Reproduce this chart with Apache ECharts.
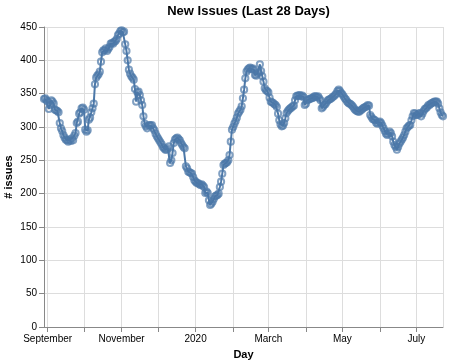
<!DOCTYPE html>
<html>
<head>
<meta charset="utf-8">
<script src="https://cdn.jsdelivr.net/npm/echarts@6/dist/echarts.min.js"></script>
<style>
html,body{margin:0;padding:0;background:#fff;}
#chart{width:449px;height:364px;}
</style>
</head>
<body>
<div id="chart"></div>
<script>
// ---- data ----
const startDate = [2019, 7, 29]; // 29 Aug 2019 (year, monthIndex, day)
const issues = [
342,343,340,338,327,333,340,338,335,326,
325,324,322,306,298,294,288,284,281,280,
278,281,279,283,280,287,291,306,308,320,
322,328,329,326,296,293,295,311,314,322,
328,335,364,374,377,379,383,398,412,415,
415,418,414,417,420,425,426,425,428,429,
432,438,440,444,445,442,443,424,414,400,
386,380,376,374,371,357,338,352,353,348,
340,333,316,305,301,298,302,303,302,303,
298,295,290,286,283,280,277,274,270,268,
266,266,268,271,246,250,261,276,281,283,
284,282,280,276,273,270,268,241,238,233,
232,231,230,225,220,218,216,216,214,213,
214,212,210,201,203,201,190,183,185,188,
192,196,197,198,200,210,218,230,243,245,
246,247,250,258,278,296,300,305,309,314,
320,323,326,331,343,356,373,383,386,388,
389,387,388,386,378,377,380,382,394,384,
376,368,358,355,354,352,344,338,337,336,
334,333,330,320,310,304,301,302,306,313,
321,324,326,328,329,331,332,340,346,347,
347,348,346,347,345,333,335,340,341,342,
343,343,344,346,346,345,346,343,340,328,
330,333,334,337,340,341,342,343,345,346,
348,350,354,356,354,351,349,346,343,341,
338,336,335,334,332,330,327,325,324,323,
323,325,326,328,329,330,331,333,332,318,
315,312,311,310,306,305,307,308,306,302,
298,294,290,288,290,293,291,286,278,273,
270,266,270,275,278,281,284,288,293,298,
300,302,303,310,316,321,320,318,318,320,
321,316,320,324,327,328,330,333,333,335,
336,337,338,338,338,335,328,322,318,316
];
const days = issues.map((_, i) => new Date(startDate[0], startDate[1], startDate[2] + i).getTime());
const monthNames = ['January','February','March','April','May','June','July','August','September','October','November','December'];
const yTicks = { min: 0, max: 450, step: 50 };
const titleText = 'New Issues (Last 28 Days)';
const xTitle = 'Day';
const yTitle = '# issues';

const FONT = '"Liberation Sans", Arial, Helvetica, sans-serif';
const chart = echarts.init(document.getElementById('chart'), null, { renderer: 'canvas' });
chart.setOption({
  animation: false,
  backgroundColor: '#fff',
  title: {
    text: titleText,
    left: 243.5,
    textAlign: 'center',
    top: 0,
    textStyle: { fontFamily: FONT, fontSize: 13, fontWeight: 'bold', color: '#000' }
  },
  grid: { left: 44, right: 6, top: 27, bottom: 37, containLabel: false, outerBoundsMode: 'none' },
  xAxis: {
    type: 'time',
    min: days[0],
    max: days[days.length - 1],
    splitNumber: 11,
    minInterval: 28 * 86400000,
    maxInterval: 31 * 86400000,
    name: xTitle,
    nameLocation: 'middle',
    nameGap: 22,
    nameMoveOverlap: false,
    nameTextStyle: { fontFamily: FONT, fontSize: 11, fontWeight: 'bold', color: '#000' },
    axisLine: { show: true, lineStyle: { color: '#888', width: 1 } },
    axisTick: { show: true, length: 5, interval: 0, lineStyle: { color: '#888' } },
    splitLine: { show: true, interval: 0, lineStyle: { color: '#ddd', width: 1 } },
    axisLabel: {
      interval: 0,
      margin: 7,
      fontFamily: FONT, fontSize: 10, color: '#000',
      hideOverlap: false,
      formatter: function (value) {
        const d = new Date(value);
        const m = d.getMonth();
        if (d.getDate() !== 1 || m % 2 !== 0) return '';
        return m === 0 ? String(d.getFullYear()) : monthNames[m];
      }
    }
  },
  yAxis: {
    type: 'value',
    min: yTicks.min,
    max: yTicks.max,
    interval: yTicks.step,
    name: yTitle,
    nameLocation: 'middle',
    nameGap: 30,
    nameMoveOverlap: false,
    nameTextStyle: { fontFamily: FONT, fontSize: 11, fontWeight: 'bold', color: '#000' },
    axisLine: { show: true, lineStyle: { color: '#888', width: 1 } },
    axisTick: { show: true, length: 5, lineStyle: { color: '#888' } },
    splitLine: { show: true, lineStyle: { color: '#ddd', width: 1 } },
    axisLabel: { margin: 7, fontFamily: FONT, fontSize: 10, color: '#000' }
  },
  series: [{
    type: 'line',
    data: days.map((t, i) => [t, issues[i]]),
    showAllSymbol: true,
    symbol: 'circle',
    symbolSize: 6.2,
    lineStyle: { color: '#4c78a8', width: 2 },
    itemStyle: { color: 'rgba(0,0,0,0)', borderColor: '#4c78a8', borderWidth: 2, opacity: 0.7 },
    emphasis: { disabled: true },
    clip: false
  }]
});
</script>
</body>
</html>
